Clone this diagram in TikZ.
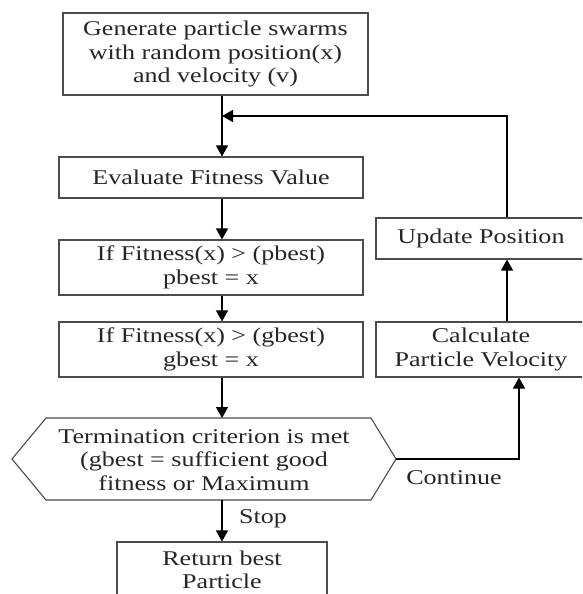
\documentclass[tikz,border=0pt]{standalone}
\usepackage{fontspec}
\setmainfont[FakeStretch=1.24]{Liberation Serif}
\usetikzlibrary{arrows.meta}
\begin{document}
\begin{tikzpicture}[x=1pt,y=-1pt,
  txt/.style={font=\fontsize{21}{23.5}\selectfont, text=black!85, align=center, inner sep=0pt},
  box/.style={txt, draw=black!70, line width=1.1pt},
  arr/.style={draw=black, line width=1.4pt, -{Triangle[length=11pt,width=12pt]}},
  ln/.style={draw=black, line width=1.4pt}]
\useasboundingbox (0,0) rectangle (582,594);
\clip (0,0) rectangle (582,594);
\fill[white] (0,0) rectangle (582,594);
\coordinate (ax) at (222,0);
\node[box, minimum width=305pt, minimum height=82pt] (gen) at (215.5,54)
  {Generate particle swarms\\with random position(x)\\and velocity (v)};
\node[box, minimum width=304pt, minimum height=41pt] (eval) at (211,177.5)
  {Evaluate Fitness Value};
\node[box, minimum width=304pt, minimum height=55pt] (pb) at (211,267.5)
  {If Fitness(x) > (pbest)\\pbest = x};
\node[box, minimum width=304pt, minimum height=55pt] (gb) at (211,349.5)
  {If Fitness(x) > (gbest)\\gbest = x};
\node[box, minimum width=210pt, minimum height=41pt] (upd) at (481,238.5)
  {Update Position};
\node[box, minimum width=210pt, minimum height=55pt] (calc) at (481,349.5)
  {Calculate\\Particle Velocity};
\node[txt] (term) at (204,460)
  {Termination criterion is met\\(gbest = sufficient good\\fitness or Maximum};
\draw[draw=black!70, line width=1.1pt] (12,459) -- (46,418) -- (371,418) -- (396,459) -- (371,500) -- (46,500) -- cycle;
\coordinate (termT) at (222,418);
\coordinate (termB) at (222,500);
\coordinate (termR) at (396,459);
\node[box, minimum width=210pt, minimum height=56pt] (ret) at (222,570)
  {Return best\\Particle};
\node[txt] (stop) at (263,519) {Stop};
\node[txt] (cont) at (454,478) {Continue};
\coordinate (fb) at (507,116);
\coordinate (cx) at (519,459);
% connectors
\draw[arr] (gen.south -| ax) -- (eval.north -| ax);
\draw[arr] (upd.north -| fb) -- (fb) -- (fb -| ax);
\draw[arr] (eval.south -| ax) -- (pb.north -| ax);
\draw[arr] (pb.south -| ax) -- (gb.north -| ax);
\draw[arr] (gb.south -| ax) -- (termT);
\draw[arr] (termB) -- (ret.north -| ax);
\draw[arr] (termR) -- (cx) -- (calc.south -| cx);
\draw[arr] (calc.north -| fb) -- (upd.south -| fb);
\end{tikzpicture}
\end{document}
